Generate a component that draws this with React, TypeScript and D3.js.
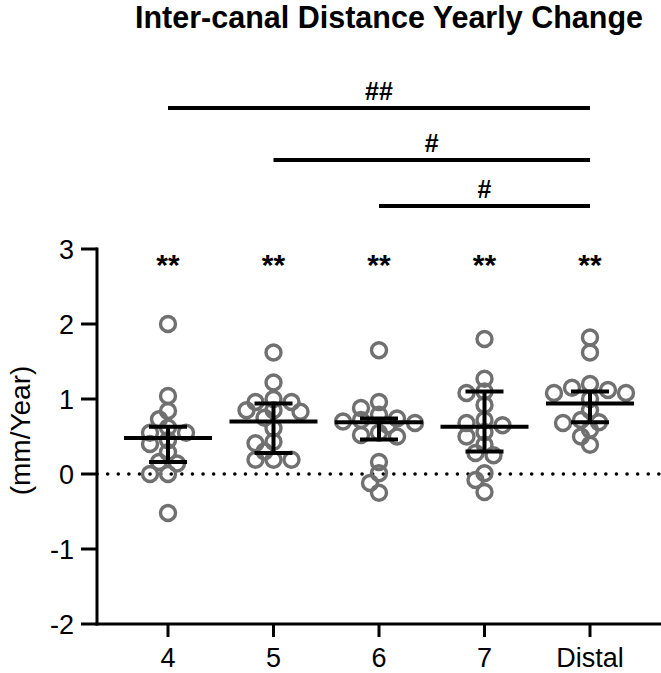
import React from "react";
import * as d3 from "d3";

const categories = ["4", "5", "6", "7", "Distal"];

const values4 = [2.0, 1.04, 0.84, 0.73, 0.62, 0.55, 0.55, 0.45, 0.4, 0.29, 0.16, 0.14, 0.0, 0.0, -0.52];
const values5 = [1.62, 1.22, 1.0, 0.96, 0.96, 0.85, 0.85, 0.83, 0.75, 0.61, 0.43, 0.41, 0.3, 0.19, 0.19, 0.19];
const values6 = [1.65, 0.96, 0.88, 0.79, 0.74, 0.72, 0.7, 0.68, 0.65, 0.55, 0.52, 0.5, 0.16, 0.01, -0.12, -0.25];
const values7 = [1.8, 1.27, 1.1, 1.08, 0.92, 0.72, 0.68, 0.65, 0.56, 0.5, 0.39, 0.28, 0.25, 0.01, -0.08, -0.24];
const valuesDistal = [1.82, 1.62, 1.2, 1.15, 1.12, 1.08, 1.08, 1.0, 0.85, 0.72, 0.69, 0.68, 0.59, 0.5, 0.39];

const groupValues = [values4, values5, values6, values7, valuesDistal];

const medians = [0.48, 0.7, 0.69, 0.63, 0.94];
const q1 = [0.16, 0.28, 0.46, 0.3, 0.69];
const q3 = [0.63, 0.94, 0.74, 1.1, 1.1];

const starLabels = ["**", "**", "**", "**", "**"];

const sigFrom = ["4", "5", "6"];
const sigTo = ["Distal", "Distal", "Distal"];
const sigLabels = ["##", "#", "#"];

const yTicks = [-2, -1, 0, 1, 2, 3];

const W = 661;
const H = 673;

function swarm(vals: number[], y: (v: number) => number, minDist: number, step: number) {
  const idx = vals.map((v, i) => i).sort((a, b) => vals[b] - vals[a]);
  const placed: { x: number; y: number }[] = [];
  const out: number[] = new Array(vals.length).fill(0);
  for (const i of idx) {
    const py = y(vals[i]);
    let chosen = 0;
    for (let k = 0; k < 40; k++) {
      const cand = k === 0 ? [0] : [-k * step, k * step];
      let ok = false;
      for (const c of cand) {
        if (placed.every((p) => Math.hypot(p.x - c, p.y - py) >= minDist)) {
          chosen = c;
          ok = true;
          break;
        }
      }
      if (ok) break;
    }
    placed.push({ x: chosen, y: py });
    out[i] = chosen;
  }
  return out;
}

export default function App() {
  const y = d3.scaleLinear().domain([-2, 3]).range([624, 249]);
  const x = d3.scalePoint<string>().domain(categories).range([97, 661]).padding(0.673);
  const font = "'Liberation Sans', Arial, sans-serif";
  const sigY = [108, 160, 206];

  return (
    <svg width={W} height={H} style={{ position: "absolute", left: 0, top: 0, background: "#fff" }}>
      <text x={389} y={28} textAnchor="middle" fontFamily={font} fontWeight="bold" fontSize={30.5}>
        Inter-canal Distance Yearly Change
      </text>

      {/* significance bars */}
      {sigFrom.map((f, i) => {
        const x1 = x(f)!;
        const x2 = x(sigTo[i])!;
        return (
          <g key={i}>
            <line x1={x1} x2={x2} y1={sigY[i]} y2={sigY[i]} stroke="#000" strokeWidth={4} />
            <text x={(x1 + x2) / 2} y={sigY[i] - 8} textAnchor="middle" fontFamily={font} fontWeight="bold" fontSize={25}>
              {sigLabels[i]}
            </text>
          </g>
        );
      })}

      {/* zero dotted line */}
      <line x1={97} x2={661} y1={y(0)} y2={y(0)} stroke="#000" strokeWidth={3.5} strokeLinecap="round" strokeDasharray="0.1 10.5" />

      {/* points */}
      {groupValues.map((vals, gi) => {
        const cx = x(categories[gi])!;
        const offs = swarm(vals, y, 11, 9);
        return (
          <g key={gi}>
            {vals.map((v, i) => (
              <circle key={i} cx={cx + offs[i]} cy={y(v)} r={7.5} fill="none" stroke="#707070" strokeWidth={3.4} />
            ))}
          </g>
        );
      })}

      {/* median + IQR */}
      {categories.map((c, i) => {
        const cx = x(c)!;
        return (
          <g key={c} stroke="#000" strokeWidth={4}>
            <line x1={cx - 44} x2={cx + 44} y1={y(medians[i])} y2={y(medians[i])} />
            <line x1={cx} x2={cx} y1={y(q1[i])} y2={y(q3[i])} />
            <line x1={cx - 19} x2={cx + 19} y1={y(q1[i])} y2={y(q1[i])} />
            <line x1={cx - 19} x2={cx + 19} y1={y(q3[i])} y2={y(q3[i])} />
          </g>
        );
      })}

      {/* stars */}
      {categories.map((c, i) => (
        <text key={c} x={x(c)!} y={275} textAnchor="middle" fontFamily={font} fontWeight="bold" fontSize={30}>
          {starLabels[i]}
        </text>
      ))}

      {/* y axis */}
      <line x1={97} x2={97} y1={y(3) - 1.5} y2={y(-2) + 1.5} stroke="#000" strokeWidth={3} />
      {yTicks.map((t) => (
        <g key={t}>
          <line x1={81} x2={97} y1={y(t)} y2={y(t)} stroke="#000" strokeWidth={3} />
          <text x={74} y={y(t)} dy="0.36em" textAnchor="end" fontFamily={font} fontSize={27}>
            {t}
          </text>
        </g>
      ))}
      <text
        transform={`translate(30, ${(y(3) + y(-2)) / 2 - 6}) rotate(-90)`}
        textAnchor="middle"
        fontFamily={font}
        fontSize={28}
      >
        (mm/Year)
      </text>

      {/* x axis */}
      <line x1={95.5} x2={661} y1={y(-2)} y2={y(-2)} stroke="#000" strokeWidth={3} />
      {categories.map((c) => (
        <g key={c}>
          <line x1={x(c)!} x2={x(c)!} y1={y(-2)} y2={y(-2) + 13} stroke="#000" strokeWidth={3} />
          <text x={x(c)!} y={667} textAnchor="middle" fontFamily={font} fontSize={27}>
            {c}
          </text>
        </g>
      ))}
    </svg>
  );
}
